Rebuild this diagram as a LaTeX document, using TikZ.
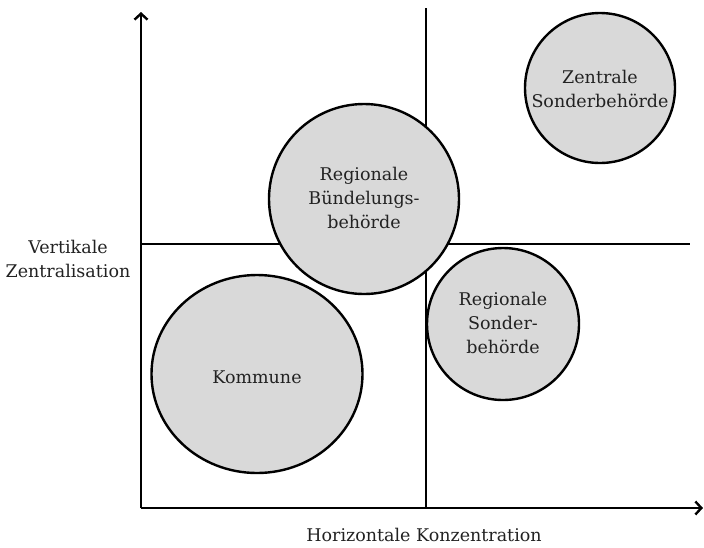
\documentclass[tikz,border=0pt]{standalone}
\usepackage{fontspec}
\setmainfont{DejaVu Serif}
\usetikzlibrary{arrows.meta}
\definecolor{bubble}{HTML}{D9D9D9}
\definecolor{ink}{HTML}{222222}
\tikzset{
  axis/.style={line width=2.8pt, -{Straight Barb[length=6pt,width=13pt,line width=2.4pt]}},
  divider/.style={line width=2.8pt},
  bubblecirc/.style={draw=black, line width=2.4pt, fill=bubble},
  lbl/.style={font=\fontsize{17.5}{24}\selectfont, align=center, text=ink},
}
\begin{document}
\begin{tikzpicture}[x=1pt,y=-1pt]
\useasboundingbox (0,0) rectangle (704,547);
% dividers
\coordinate (vtop) at (426,8);
\coordinate (vbot) at (426,508);
\coordinate (hleft) at (141,244);
\coordinate (hright) at (690,244);
\draw[divider] (vtop) -- (vbot);
\draw[divider] (hleft) -- (hright);
% axes
\coordinate (o) at (141,508);
\coordinate (ytip) at (141,12);
\coordinate (xtip) at (703,508);
\draw[axis] (o) -- (ytip);
\draw[axis] (o) -- (xtip);
% bubbles
\draw[bubblecirc] (364,199) circle[radius=95];
\node[lbl] (rb) at (364,198) {Regionale\\Bündelungs-\\behörde};
\draw[bubblecirc] (600,88) circle[radius=75];
\node[lbl] (zs) at (600,89) {Zentrale\\Sonderbehörde};
\draw[bubblecirc] (503,324) circle[radius=76];
\node[lbl] (rs) at (503,323) {Regionale\\Sonder-\\behörde};
\draw[bubblecirc] (257,374) ellipse[x radius=105.5, y radius=99];
\node[lbl] (k) at (257,377) {Kommune};
% axis labels
\node[lbl] (vz) at (68,259) {Vertikale\\Zentralisation};
\node[lbl] (hk) at (424,535) {Horizontale Konzentration};
\end{tikzpicture}
\end{document}
